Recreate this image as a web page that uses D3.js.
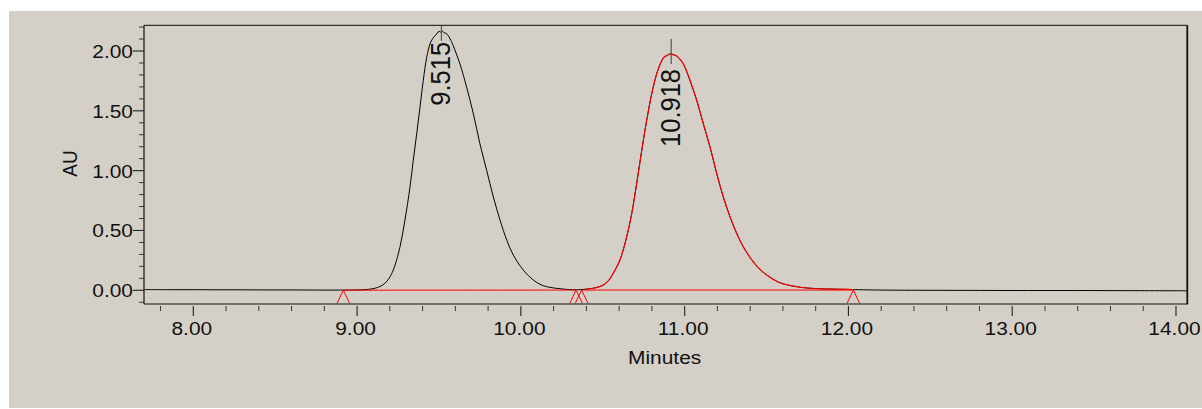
<!DOCTYPE html>
<html>
<head>
<meta charset="utf-8">
<script src="https://cdn.jsdelivr.net/npm/d3@7"></script>
<style>
  html, body { margin: 0; padding: 0; background: #ffffff; }
  svg { display: block; }
  text { font-family: "Liberation Sans", Arial, sans-serif; fill: #111; }
</style>
</head>
<body>
<svg id="chart" width="1202" height="409"></svg>
<script>
// ---- data ----
const times = [7.70, 7.85, 8.00, 8.15, 8.30, 8.45, 8.60, 8.75, 8.90, 9.00, 9.07,
  9.109, 9.140, 9.170, 9.195, 9.221, 9.262, 9.292, 9.323, 9.343, 9.364, 9.384, 9.404, 9.425,
  9.445, 9.462, 9.476, 9.490, 9.500, 9.510, 9.520, 9.530, 9.540, 9.557, 9.572, 9.587, 9.628,
  9.669, 9.710, 9.750, 9.791, 9.832, 9.873, 9.914, 9.954, 10.015, 10.076, 10.117, 10.158,
  10.239, 10.300, 10.341, 10.361, 10.400, 10.442, 10.475, 10.503, 10.535, 10.564, 10.605,
  10.646, 10.677, 10.707, 10.738, 10.768, 10.799, 10.829, 10.860, 10.875, 10.890, 10.905,
  10.918, 10.931, 10.946, 10.961, 10.992, 11.033, 11.074, 11.114, 11.155, 11.196, 11.236,
  11.277, 11.318, 11.358, 11.419, 11.460, 11.501, 11.582, 11.684, 11.750, 11.826, 11.900,
  11.989, 12.030, 12.20, 12.50, 12.80, 13.10, 13.40, 13.70, 14.069];
const absorbance = [0.006, 0.005, 0.005, 0.004, 0.004, 0.003, 0.003, 0.002, 0.002, 0.003, 0.008,
  0.017, 0.032, 0.058, 0.100, 0.169, 0.363, 0.586, 0.863, 1.086, 1.308, 1.530, 1.753, 1.947,
  2.058, 2.105, 2.128, 2.150, 2.165, 2.158, 2.168, 2.152, 2.150, 2.128, 2.090, 2.044, 1.892,
  1.697, 1.475, 1.225, 1.003, 0.780, 0.586, 0.419, 0.294, 0.169, 0.086, 0.050, 0.030,
  0.013, 0.006, 0.004, 0.005, 0.010, 0.017, 0.028, 0.044, 0.080, 0.142, 0.253,
  0.447, 0.642, 0.892, 1.169, 1.419, 1.642, 1.808, 1.919, 1.950, 1.961, 1.972,
  1.975, 1.969, 1.962, 1.947, 1.892, 1.753, 1.586, 1.392, 1.197, 0.975, 0.780,
  0.614, 0.475, 0.364, 0.238, 0.175, 0.128, 0.063, 0.030, 0.019, 0.013, 0.010,
  0.008, 0.006, 0.002, 0.000, -0.001, -0.002, -0.002, -0.003, -0.004];

const peakNames = ["9.515", "10.918"];
const peakTimes = [9.515, 10.918];
const peakStarts = [8.916, 10.371];
const peakEnds = [10.337, 12.030];
const baselineStartValues = [0.001, 0.002];
const baselineEndValues = [0.002, 0.002];
const highlightedPeak = [false, true];

const xMajorTicks = [8, 9, 10, 11, 12, 13, 14];
const xMinorTicks = [7.8, 8.2, 8.4, 8.6, 8.8, 9.2, 9.4, 9.6, 9.8, 10.2, 10.4, 10.6, 10.8,
  11.2, 11.4, 11.6, 11.8, 12.2, 12.4, 12.6, 12.8, 13.2, 13.4, 13.6, 13.8];
const yMajorTicks = [0, 0.5, 1.0, 1.5, 2.0];
const yMinorTicks = [-0.1, 0.1, 0.2, 0.3, 0.4, 0.6, 0.7, 0.8, 0.9, 1.1, 1.2, 1.3, 1.4,
  1.6, 1.7, 1.8, 1.9, 2.1, 2.2];
const xDomain = [7.699, 14.069];
const yDomain = [-0.1145, 2.2148];
const xTitle = "Minutes";
const yTitle = "AU";

// ---- layout ----
const L = 144, R = 1187.3, T = 25.3, B = 304;
const SX = 1.1; // horizontal text stretch
const svg = d3.select("#chart");

svg.append("rect").attr("x", 9).attr("y", 11).attr("width", 1193).attr("height", 397)
  .attr("fill", "#d4d0c8");

const x = d3.scaleLinear().domain(xDomain).range([L, R]);
const y = d3.scaleLinear().domain(yDomain).range([B, T]);

svg.append("clipPath").attr("id", "plotclip").append("rect")
  .attr("x", L).attr("y", T).attr("width", R - L).attr("height", B - T);

const trace = times.map((t, i) => ({ t, v: absorbance[i] }));
const line = d3.line().x(d => x(d.t)).y(d => y(d.v)).curve(d3.curveCatmullRom.alpha(0.5));

const plot = svg.append("g").attr("clip-path", "url(#plotclip)");

// black chromatogram
plot.append("path").datum(trace).attr("d", line)
  .attr("fill", "none").attr("stroke", "#000").attr("stroke-width", 1);

// integration baselines
peakNames.forEach((n, i) => {
  plot.append("line")
    .attr("x1", x(peakStarts[i])).attr("y1", y(baselineStartValues[i]))
    .attr("x2", x(peakEnds[i])).attr("y2", y(baselineEndValues[i]))
    .attr("stroke", "#ff0000").attr("stroke-width", 1);
});

// highlighted peak in red
peakNames.forEach((n, i) => {
  if (!highlightedPeak[i]) return;
  const seg = trace.filter(d => d.t >= peakStarts[i] && d.t <= peakEnds[i]);
  plot.append("path").datum(seg).attr("d", line)
    .attr("fill", "none").attr("stroke", "#ff0000").attr("stroke-width", 1.1);
});

// peak start/end markers
const markerPts = [];
peakNames.forEach((n, i) => {
  markerPts.push({ t: peakStarts[i], v: baselineStartValues[i] });
  markerPts.push({ t: peakEnds[i], v: baselineEndValues[i] });
});
markerPts.forEach(m => {
  const mx = x(m.t), my = y(m.v);
  svg.append("path")
    .attr("d", `M${mx - 6.3},${B - 0.7} L${mx},${my} L${mx + 6.3},${B - 0.7}`)
    .attr("fill", "none").attr("stroke", "#ff0000").attr("stroke-width", 1);
});

// peak labels
const labelGaps = [1, 5];
peakNames.forEach((n, i) => {
  const apex = d3.max(trace.filter(d => Math.abs(d.t - peakTimes[i]) < 0.05), d => d.v);
  const px = x(peakTimes[i]);
  const ay = y(apex);
  const y1 = Math.max(T, ay - 15), y2 = ay + 10;
  svg.append("line").attr("x1", px).attr("x2", px).attr("y1", y1).attr("y2", y2)
    .attr("stroke", "#555").attr("stroke-width", 1.2);
  svg.append("text")
    .attr("transform", `translate(${px + 8.5},${y2 + labelGaps[i]}) scale(${SX},1) rotate(-90)`)
    .attr("text-anchor", "end")
    .attr("font-size", 25.5)
    .text(n);
});

// frame
svg.append("line").attr("x1", L).attr("x2", R).attr("y1", T).attr("y2", T)
  .attr("stroke", "#333").attr("stroke-width", 1.2);
svg.append("line").attr("x1", R).attr("x2", R).attr("y1", T).attr("y2", B)
  .attr("stroke", "#111").attr("stroke-width", 1.8);
svg.append("line").attr("x1", L).attr("x2", R + 0.9).attr("y1", B).attr("y2", B)
  .attr("stroke", "#111").attr("stroke-width", 1.2);
svg.append("line").attr("x1", L).attr("x2", L).attr("y1", T).attr("y2", B)
  .attr("stroke", "#111").attr("stroke-width", 1.2);

// x ticks
xMinorTicks.forEach(t => {
  svg.append("line").attr("x1", x(t)).attr("x2", x(t)).attr("y1", B + 2).attr("y2", B + 7)
    .attr("stroke", "#333").attr("stroke-width", 1);
});
xMajorTicks.forEach(t => {
  svg.append("line").attr("x1", x(t)).attr("x2", x(t)).attr("y1", B + 2).attr("y2", B + 12)
    .attr("stroke", "#222").attr("stroke-width", 1.1);
  svg.append("text")
    .attr("transform", `translate(${x(t) - 1.5},${B + 31}) scale(${SX},1)`)
    .attr("text-anchor", "middle").attr("font-size", 19)
    .text(d3.format(".2f")(t));
});

// y ticks
yMinorTicks.forEach(v => {
  svg.append("line").attr("x1", L - 5).attr("x2", L).attr("y1", y(v)).attr("y2", y(v))
    .attr("stroke", "#333").attr("stroke-width", 1);
});
yMajorTicks.forEach(v => {
  svg.append("line").attr("x1", L - 11).attr("x2", L).attr("y1", y(v)).attr("y2", y(v))
    .attr("stroke", "#222").attr("stroke-width", 1.1);
  svg.append("text")
    .attr("transform", `translate(${L - 11},${y(v) + 7}) scale(${SX},1)`)
    .attr("text-anchor", "end").attr("font-size", 19)
    .text(d3.format(".2f")(v));
});

// axis titles
svg.append("text")
  .attr("transform", `translate(${(L + R) / 2 - 1},${364}) scale(${SX},1)`)
  .attr("text-anchor", "middle").attr("font-size", 19).text(xTitle);
svg.append("text")
  .attr("transform", `translate(77,${163.5}) scale(${SX},1) rotate(-90)`)
  .attr("text-anchor", "middle").attr("font-size", 19).text(yTitle);
</script>
</body>
</html>
